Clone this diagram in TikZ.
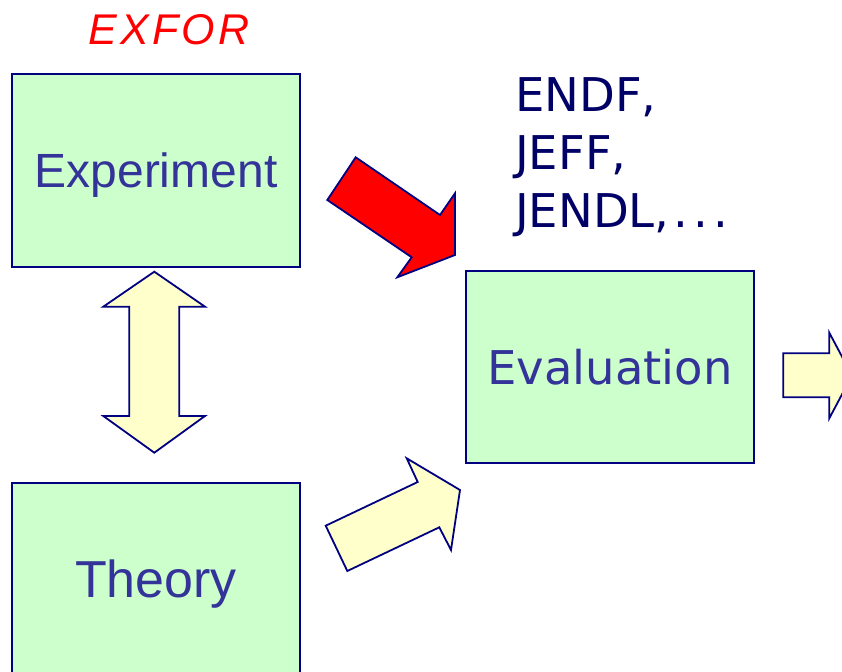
\documentclass[tikz,border=0pt]{standalone}
\usepackage{fontspec}
\setmainfont{Liberation Sans}
\newfontfamily\verdfont{DejaVu Sans}
\newfontfamily\exforfont[LetterSpace=8]{Liberation Sans}
\definecolor{boxgreen}{HTML}{CCFFCC}
\definecolor{arrowyellow}{HTML}{FFFFCC}
\definecolor{edgenavy}{HTML}{000080}
\definecolor{textblue}{HTML}{333399}
\definecolor{libnavy}{HTML}{000066}
\tikzset{
	stage/.style={draw=edgenavy,line width=2pt,fill=boxgreen,minimum width=288pt,minimum height=193pt,inner sep=0pt,text=textblue,text depth=0pt},
	bigarrow/.style={draw=edgenavy,line width=1.8pt,line join=miter,fill=arrowyellow},
	lib/.style={anchor=base west,inner sep=0pt,text=libnavy,font=\verdfont\fontsize{46.5}{50}\selectfont}
}
\begin{document}
\begin{tikzpicture}[x=1pt,y=-1pt]
		\clip (0,0) rectangle (842,671);
		\node[stage,text height=34.4pt,font=\fontsize{48}{52}\selectfont] (exp) at (156,170.5) {Experiment};
		\node[stage,text height=36pt,font=\fontsize{52}{56}\selectfont] (theo) at (156,579.5) {Theory};
		\node[stage,minimum height=192pt,text height=34pt,font=\verdfont\fontsize{46.5}{50}\selectfont] (eval) at (610,367) {Evaluation};
		\node[anchor=base,inner sep=0pt,text=red,font=\exforfont\itshape\fontsize{43}{48}\selectfont] (exfor) at (169,45) {EXFOR};
		\node[lib] (endf) at (515,112) {ENDF,};
		\node[lib] (jeff) at (515,170) {JEFF,};
		\node[lib] (jendl) at (515,227) {JENDL,\kern4pt.\kern5pt.\kern5pt.};
		\draw[bigarrow,fill=red] (355.7,157.3)--(440,215)--(455,193.3)--(455,255)--(397.3,277.3)--(411.7,257.3)--(327.3,200)--cycle;
		\draw[bigarrow] (325.7,525.7)--(417.7,482)--(406.7,458.3)--(460,490)--(451,550)--(439.3,527.3)--(347.3,571)--cycle;
		\draw[bigarrow] (783.3,353.3)--(829.3,353.3)--(829.3,332.7)--(852,375.5)--(829.3,418.3)--(829.3,397.3)--(783.3,397.3)--cycle;
		\draw[bigarrow] (154.3,271.7)--(205,306.7)--(179.3,306.7)--(179.3,416)--(205,416)--(154.3,452.7)--(103.3,416)--(129.3,416)--(129.3,306.7)--(103.3,306.7)--cycle;
\end{tikzpicture}
\end{document}
